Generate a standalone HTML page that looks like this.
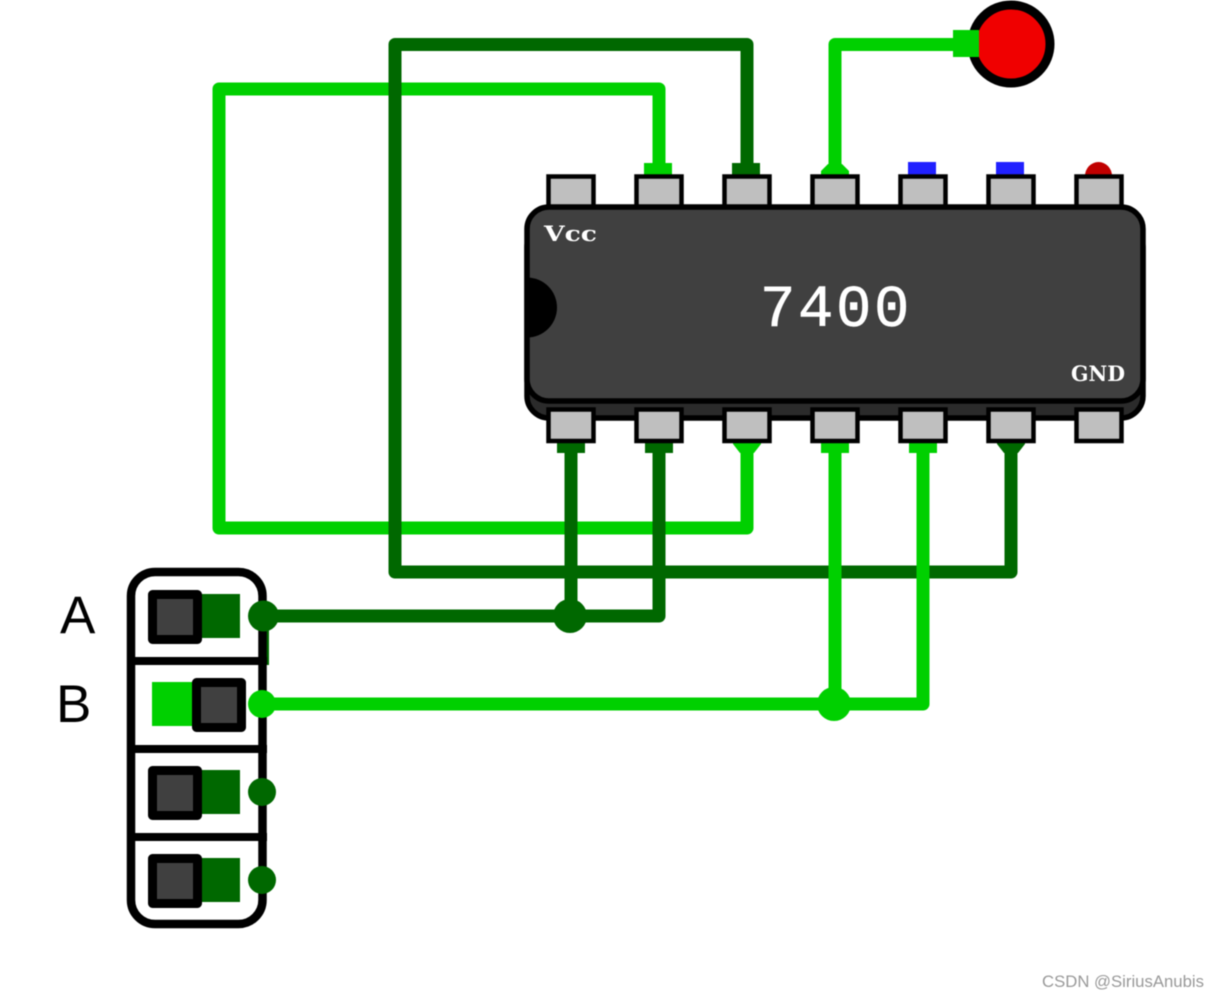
<!DOCTYPE html>
<html><head><meta charset="utf-8"><style>
html,body{margin:0;padding:0;background:#fff;width:1219px;height:997px;overflow:hidden}
svg{display:block;filter:blur(.4px)}
</style></head><body>
<svg width="1219" height="997" viewBox="0 0 1219 997" xmlns="http://www.w3.org/2000/svg">
<rect width="1219" height="997" fill="#fff"/>
<!-- top stubs -->
<rect x="644" y="163" width="28" height="13" fill="#00d000"/>
<rect x="732" y="163" width="28" height="13" fill="#006800"/>
<path d="M821 176 L821 171 L828 164 L842 164 L849 171 L849 176 Z" fill="#00d000"/>
<rect x="908" y="162" width="28" height="14" fill="#2020ff"/>
<rect x="996" y="162" width="28" height="14" fill="#2020ff"/>
<path d="M1085 176 A13.5 14 0 0 1 1112 176 Z" fill="#c00000"/>
<!-- bottom stubs -->
<rect x="557" y="441" width="28" height="12" fill="#006800"/>
<rect x="645" y="441" width="28" height="12" fill="#006800"/>
<path d="M733 441 L761 441 L761 444 L754 453 L740 453 L733 444 Z" fill="#00d000"/>
<rect x="821" y="441" width="28" height="12" fill="#00d000"/>
<rect x="909" y="441" width="28" height="12" fill="#00d000"/>
<path d="M997 441 L1025 441 L1025 444 L1018 453 L1004 453 L997 444 Z" fill="#006800"/>
<!-- wires -->
<g fill="none" stroke-width="13" stroke-linejoin="round" stroke-linecap="round">
<path d="M659 170 L659 89 L219 89 L219 528 L747 528 L747 448" stroke="#00d000"/>
<path d="M747 170 L747 44.500 L395 44.500 L395 572 L1011 572 L1011 448" stroke="#006800"/>
<path d="M835 170 L835 44.500 L960 44.500" stroke="#00d000"/>
<path d="M571 448 L571 616" stroke="#006800"/>
<path d="M263 616 L659 616 L659 448" stroke="#006800"/>
<path d="M835 448 L835 704" stroke="#00d000"/>
<path d="M262 704 L923 704 L923 448" stroke="#00d000"/>
</g>
<circle cx="570" cy="616" r="17" fill="#006800"/>
<circle cx="834" cy="704" r="17" fill="#00d000"/>
<!-- LED -->
<circle cx="1011" cy="44" r="39" fill="#f00000" stroke="#000" stroke-width="9"/>
<rect x="953" y="30" width="26" height="27" fill="#00d000"/>
<!-- chip -->
<g stroke="#000" stroke-width="4.500" fill="#bfbfbf">
<rect x="548.500" y="176.500" width="45" height="32"/>
<rect x="636.500" y="176.500" width="45" height="32"/>
<rect x="724.500" y="176.500" width="45" height="32"/>
<rect x="812.500" y="176.500" width="45" height="32"/>
<rect x="900.500" y="176.500" width="45" height="32"/>
<rect x="988.500" y="176.500" width="45" height="32"/>
<rect x="1076.500" y="176.500" width="45" height="32"/>
</g>
<rect x="527" y="225" width="616" height="193" rx="22" fill="#2b2b2b" stroke="#000" stroke-width="5.500"/>
<rect x="527" y="207" width="616" height="194" rx="22" fill="#404040" stroke="#000" stroke-width="5.500"/>
<path d="M527 277.500 A30 30 0 0 1 527 337.500 Z" fill="#000"/>
<g stroke="#000" stroke-width="4.500" fill="#bfbfbf">
<rect x="548.500" y="409.500" width="45" height="31.500"/>
<rect x="636.500" y="409.500" width="45" height="31.500"/>
<rect x="724.500" y="409.500" width="45" height="31.500"/>
<rect x="812.500" y="409.500" width="45" height="31.500"/>
<rect x="900.500" y="409.500" width="45" height="31.500"/>
<rect x="988.500" y="409.500" width="45" height="31.500"/>
<rect x="1076.500" y="409.500" width="45" height="31.500"/>
</g>
<text x="760" y="326" font-family="'Liberation Mono','DejaVu Sans Mono',monospace" font-size="59" fill="#fff" stroke="#fff" stroke-width=".6" letter-spacing="2.600">7400</text>
<text x="544" y="241" font-family="'DejaVu Serif','Liberation Serif',serif" font-weight="bold" font-size="21" fill="#fff" textLength="53" lengthAdjust="spacingAndGlyphs">Vcc</text>
<text x="1071" y="381" font-family="'DejaVu Serif','Liberation Serif',serif" font-weight="bold" font-size="21" fill="#fff" textLength="54" lengthAdjust="spacingAndGlyphs">GND</text>
<!-- switch panel -->
<rect x="263" y="616" width="6" height="49" fill="#006800"/>
<rect x="131" y="572" width="131.500" height="352" rx="24" fill="none" stroke="#000" stroke-width="8.500"/>
<g stroke="#000" stroke-width="8">
<path d="M127 661 H267"/><path d="M127 749 H267"/><path d="M127 837 H267"/>
</g>
<rect x="195" y="594" width="45" height="44" fill="#006800"/>
<rect x="152" y="682" width="45" height="44" fill="#00d000"/>
<rect x="195" y="770" width="45" height="44" fill="#006800"/>
<rect x="195" y="858" width="45" height="44" fill="#006800"/>
<g fill="#404040" stroke="#000" stroke-width="9" stroke-linejoin="round">
<rect x="152.500" y="594.500" width="45" height="45"/>
<rect x="196.500" y="682.500" width="45" height="45"/>
<rect x="152.500" y="770.500" width="45" height="45"/>
<rect x="152.500" y="858.500" width="45" height="45"/>
</g>
<circle cx="263.500" cy="616" r="15.500" fill="#006800"/>
<circle cx="262" cy="704" r="14" fill="#00d000"/>
<circle cx="262" cy="792" r="14" fill="#006800"/>
<circle cx="262" cy="880" r="14" fill="#006800"/>
<text x="60" y="633" font-family="'Liberation Sans',sans-serif" font-size="53" fill="#000">A</text>
<text x="56" y="722" font-family="'Liberation Sans',sans-serif" font-size="53" fill="#000">B</text>
<text x="1042" y="987" font-family="'Liberation Sans',sans-serif" font-size="16.500" fill="#999" textLength="162" lengthAdjust="spacingAndGlyphs">CSDN @SiriusAnubis</text>
</svg>
</body></html>
